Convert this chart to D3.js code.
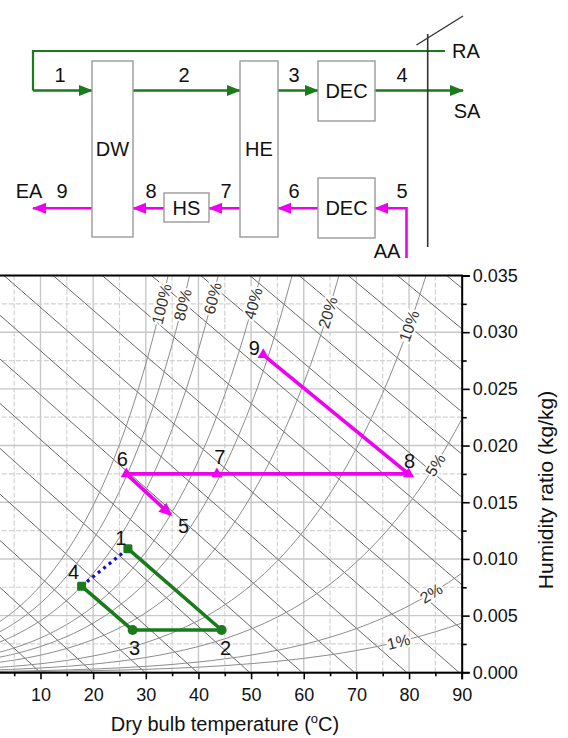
<!DOCTYPE html>
<html><head><meta charset="utf-8">
<script src="https://cdn.jsdelivr.net/npm/d3@7"></script>
<style>
body{margin:0;background:#fff}
svg{display:block;font-family:"Liberation Sans",Arial,sans-serif}
</style>
</head><body>
<svg id="c" width="568" height="738"></svg>
<script>
// ---------------- data ----------------
// saturation vapour pressure of water (steam table), kPa
const satTemps    = [0, 5, 10, 15, 20, 25, 30, 35, 40, 45, 50, 55, 60, 65, 70, 75, 80, 85, 90, 95];
const satPressure = [0.6112, 0.8726, 1.2282, 1.7058, 2.3392, 3.1697, 4.2467, 5.6286, 7.3844, 9.5944,
                     12.3513, 15.7614, 19.9458, 25.0411, 31.2006, 38.5954, 47.4147, 57.8675, 70.1817, 84.609];
const rhLevels      = [100, 80, 60, 40, 30, 20, 10, 5, 2, 1];          // % relative humidity curves
const rhLabelLevels = [100, 80, 60, 40, 20, 10, 5, 2, 1];
const rhLabelTemps  = [33, 37, 42.7, 50.4, 64.6, 80, 85, 84.2, 78];     // where each label sits (°C)
const enthalpyLevels = [10,20,30,40,50,60,70,80,90,100,110,120,130,140,150,160,170,180]; // kJ/kg
const xTicks = [10, 20, 30, 40, 50, 60, 70, 80, 90];
const xMinorTicks = [5, 15, 25, 35, 45, 55, 65, 75, 85];
const yTicks = [0.000, 0.005, 0.010, 0.015, 0.020, 0.025, 0.030, 0.035];
const yMinorTicks = [0.0025, 0.0075, 0.0125, 0.0175, 0.0225, 0.0275, 0.0325];
const pointIds   = ["1", "2", "3", "4", "5", "6", "7", "8", "9"];
const pointTemp  = [26.6, 44.4, 27.5, 17.8, 34.7, 26.3, 43.5, 79.9, 52.3];
const pointHum   = [0.0109, 0.00373, 0.00373, 0.0076, 0.0139, 0.0175, 0.0175, 0.0175, 0.0280];
const supplyPath  = ["1", "2", "3", "4"];
const bypassPath  = ["4", "1"];
const exhaustPath = ["6", "7", "8", "9"];
const exhaustTail = ["6", "5"];
const xTitle = "Dry bulb temperature (";
const yTitle = "Humidity ratio (kg/kg)";

// ---------------- layout ----------------
const P = 101.325;
const GREEN = "#1b7a1b", MAG = "#f000f0", BLUE = "#1010d0";
const svg = d3.select("#c");
const x = d3.scaleLinear().domain([0, 90]).range([-12.15, 461.7]);
const y = d3.scaleLinear().domain([0, 0.035]).range([672.3, 275.5]);
const [L, R] = x.range(), [B, T] = y.range();

svg.append("defs").append("clipPath").attr("id", "clip")
  .append("rect").attr("x", L).attr("y", T).attr("width", R - L).attr("height", B - T);

const plot = svg.append("g").attr("clip-path", "url(#clip)");

// grid
plot.selectAll(".vminor").data(xMinorTicks).join("line")
  .attr("x1", d => x(d)).attr("x2", d => x(d)).attr("y1", T).attr("y2", B)
  .attr("stroke", "#d2d2d2").attr("stroke-width", 1.2).attr("stroke-dasharray", "5,2");
plot.selectAll(".vmajor").data(xTicks).join("line")
  .attr("x1", d => x(d)).attr("x2", d => x(d)).attr("y1", T).attr("y2", B)
  .attr("stroke", "#c8c8c8").attr("stroke-width", 1.4);
plot.selectAll(".hminor").data(yMinorTicks).join("line")
  .attr("y1", d => y(d)).attr("y2", d => y(d)).attr("x1", L).attr("x2", R)
  .attr("stroke", "#d2d2d2").attr("stroke-width", 1.2).attr("stroke-dasharray", "5,2");
plot.selectAll(".hmajor").data(yTicks).join("line")
  .attr("y1", d => y(d)).attr("y2", d => y(d)).attr("x1", L).attr("x2", R)
  .attr("stroke", "#c8c8c8").attr("stroke-width", 1.4);

// enthalpy lines
const tAtW = (h, W) => (h - 2501 * W) / (1.006 + 1.86 * W);
plot.selectAll(".enth").data(enthalpyLevels).join("line")
  .attr("x1", h => x(tAtW(h, 0))).attr("y1", y(0))
  .attr("x2", h => x(tAtW(h, 0.04))).attr("y2", y(0.04))
  .attr("stroke", "#6a6a6a").attr("stroke-width", 1);

// relative humidity curves
const Wof = (phi, ps) => 0.622 * phi * ps / (P - phi * ps);
const lineGen = d3.line().curve(d3.curveCatmullRom);
plot.selectAll(".rh").data(rhLevels).join("path")
  .attr("d", rh => lineGen(satTemps.map((t, i) => [x(t), y(Wof(rh / 100, satPressure[i]))])))
  .attr("fill", "none").attr("stroke", "#8c8c8c").attr("stroke-width", 1);

// labels on RH curves
function psAt(t) {
  let i = Math.min(satTemps.length - 2, Math.max(0, Math.floor(t / 5)));
  const f = (t - satTemps[i]) / 5;
  return Math.exp(Math.log(satPressure[i]) * (1 - f) + Math.log(satPressure[i + 1]) * f);
}
rhLabelLevels.forEach((rh, k) => {
  const t = rhLabelTemps[k], phi = rh / 100;
  const px = x(t), py = y(Wof(phi, psAt(t)));
  const dx = x(t + 0.6) - x(t - 0.6), dy = y(Wof(phi, psAt(t + 0.6))) - y(Wof(phi, psAt(t - 0.6)));
  const ang = Math.atan2(dy, dx) * 180 / Math.PI;
  svg.append("text").attr("transform", `translate(${px},${py}) rotate(${ang})`)
    .attr("text-anchor", "middle").attr("dy", "0.35em")
    .attr("font-size", 16).attr("fill", "#333")
    .attr("stroke", "#fff").attr("stroke-width", 4).attr("paint-order", "stroke")
    .text(rh + "%");
});

// process lines
const pt = id => { const i = pointIds.indexOf(id); return [x(pointTemp[i]), y(pointHum[i])]; };
const straight = d3.line();
svg.append("path").attr("d", straight(bypassPath.map(pt)))
  .attr("fill", "none").attr("stroke", BLUE).attr("stroke-width", 3.2).attr("stroke-dasharray", "3,4");
svg.append("path").attr("d", straight(supplyPath.map(pt)))
  .attr("fill", "none").attr("stroke", GREEN).attr("stroke-width", 3.6).attr("stroke-linejoin", "round");
svg.append("path").attr("d", straight(exhaustPath.map(pt)))
  .attr("fill", "none").attr("stroke", MAG).attr("stroke-width", 3.6).attr("stroke-linejoin", "round");
svg.append("path").attr("d", straight(exhaustTail.map(pt)))
  .attr("fill", "none").attr("stroke", MAG).attr("stroke-width", 3.6);

// markers
["1", "4"].forEach(id => { const [a, b] = pt(id);
  svg.append("rect").attr("x", a - 4.5).attr("y", b - 4.5).attr("width", 9).attr("height", 9).attr("rx", 1.5).attr("fill", GREEN); });
["2", "3"].forEach(id => { const [a, b] = pt(id);
  svg.append("circle").attr("cx", a).attr("cy", b).attr("r", 5).attr("fill", GREEN); });
["6", "7", "8", "9"].forEach(id => { const [a, b] = pt(id);
  svg.append("path").attr("d", d3.symbol(d3.symbolTriangle, 55)()).attr("transform", `translate(${a},${b})`).attr("fill", MAG); });
{ const [a0, b0] = pt("6"), [a1, b1] = pt("5");
  const ang = Math.atan2(b1 - b0, a1 - a0) * 180 / Math.PI;
  svg.append("path").attr("d", "M2,0 L-11,-6 L-11,6 Z").attr("transform", `translate(${a1},${b1}) rotate(${ang})`).attr("fill", MAG); }

// point labels
const labelOffset = {"1": [-7, -11], "2": [4, 18], "3": [2, 18], "4": [-8, -14], "5": [13, 11],
                     "6": [-4, -15], "7": [3, -17], "8": [1, -13], "9": [-9, -7]};
pointIds.forEach(id => { const [a, b] = pt(id);
  svg.append("text").attr("x", a + labelOffset[id][0]).attr("y", b + labelOffset[id][1])
    .attr("text-anchor", "middle").attr("dy", "0.35em").attr("font-size", 20).attr("fill", "#111").text(id); });

// axes
svg.append("line").attr("x1", L).attr("x2", R + 1).attr("y1", T).attr("y2", T).attr("stroke", "#000").attr("stroke-width", 2);
const xAxis = svg.append("g").attr("transform", `translate(0,${B})`)
  .call(d3.axisBottom(x).tickValues(xTicks).tickSize(7).tickPadding(9).tickFormat(d3.format("d")));
svg.append("g").attr("transform", `translate(0,${B})`)
  .call(d3.axisBottom(x).tickValues(xMinorTicks).tickSize(4).tickFormat(""))
  .select(".domain").remove();
const yAxis = svg.append("g").attr("transform", `translate(${R},0)`)
  .call(d3.axisRight(y).tickValues(yTicks).tickSize(8).tickPadding(3).tickFormat(d3.format(".3f")));
svg.append("g").attr("transform", `translate(${R},0)`)
  .call(d3.axisRight(y).tickValues(yMinorTicks).tickSize(5).tickFormat(""))
  .select(".domain").remove();
svg.selectAll(".domain").attr("stroke", "#000").attr("stroke-width", 2);
svg.selectAll(".tick line").attr("stroke", "#000").attr("stroke-width", 1.6);
svg.selectAll(".tick text").attr("font-size", 18).attr("font-family", "Liberation Sans, Arial, sans-serif").attr("fill", "#111");

const xt = svg.append("text").attr("x", 225).attr("y", 731).attr("text-anchor", "middle")
  .attr("font-size", 20).attr("fill", "#111");
xt.append("tspan").text(xTitle);
xt.append("tspan").attr("font-size", 13).attr("dy", -8).text("o");
xt.append("tspan").attr("dy", 8).text("C)");
svg.append("text").attr("transform", "translate(553,490) rotate(-90)").attr("text-anchor", "middle")
  .attr("font-size", 21).attr("fill", "#111").text(yTitle);

// ---------------- schematic ----------------
const sch = svg.append("g");
function arrow(pts, color, w) {
  sch.append("path").attr("d", d3.line()(pts)).attr("fill", "none").attr("stroke", color).attr("stroke-width", w);
  const [x2, y2] = pts[pts.length - 1], [x1, y1] = pts[pts.length - 2];
  const a = Math.atan2(y2 - y1, x2 - x1) * 180 / Math.PI;
  sch.append("path").attr("d", "M1,0 L-13,-5.5 L-13,5.5 Z").attr("transform", `translate(${x2},${y2}) rotate(${a})`).attr("fill", color);
}
function box(x0, y0, x1, y1, label) {
  sch.append("rect").attr("x", x0).attr("y", y0).attr("width", x1 - x0).attr("height", y1 - y0)
    .attr("fill", "#fff").attr("stroke", "#9a9a9a").attr("stroke-width", 1.4);
  sch.append("text").attr("x", (x0 + x1) / 2).attr("y", (y0 + y1) / 2).attr("dy", "0.36em")
    .attr("text-anchor", "middle").attr("font-size", 20).attr("fill", "#111").text(label);
}
function lab(xc, yc, s) {
  sch.append("text").attr("x", xc).attr("y", yc).attr("dy", "0.36em").attr("text-anchor", "middle")
    .attr("font-size", 20).attr("fill", "#111").text(s);
}
// supply side
sch.append("path").attr("d", "M445,51 L33,51 L33,90.5").attr("fill", "none").attr("stroke", GREEN).attr("stroke-width", 2.2);
arrow([[33, 90.5], [92, 90.5]], GREEN, 2.6);
arrow([[133, 90.5], [240, 90.5]], GREEN, 2.6);
arrow([[278, 90.5], [318, 90.5]], GREEN, 2.6);
arrow([[375, 90.5], [463, 90.5]], GREEN, 2.6);
// exhaust side
arrow([[406.5, 258], [406.5, 208.3], [375, 208.3]], MAG, 2.6);
arrow([[318, 208.3], [278, 208.3]], MAG, 2.6);
arrow([[240, 208.3], [209, 208.3]], MAG, 2.6);
arrow([[164, 208.3], [133, 208.3]], MAG, 2.6);
arrow([[92, 208.3], [33, 208.3]], MAG, 2.6);
// boxes
box(92, 61, 133, 237, "DW");
box(240, 61, 278, 237, "HE");
box(318, 61, 375, 121, "DEC");
box(318, 178, 375, 238, "DEC");
box(164, 193, 209, 222, "HS");
// wall
sch.append("line").attr("x1", 427.7).attr("x2", 427.7).attr("y1", 34).attr("y2", 247).attr("stroke", "#333").attr("stroke-width", 1.6);
sch.append("line").attr("x1", 416.5).attr("y1", 45).attr("x2", 463).attr("y2", 16).attr("stroke", "#333").attr("stroke-width", 1.4);
// labels
lab(60, 75, "1"); lab(184, 75, "2"); lab(294, 75, "3"); lab(402, 75, "4");
lab(466, 51, "RA"); lab(467, 111, "SA");
lab(29, 191, "EA"); lab(62, 191, "9"); lab(151, 191, "8"); lab(226, 191, "7"); lab(294, 191, "6"); lab(402, 191, "5");
lab(387, 251, "AA");
</script>
</body></html>
